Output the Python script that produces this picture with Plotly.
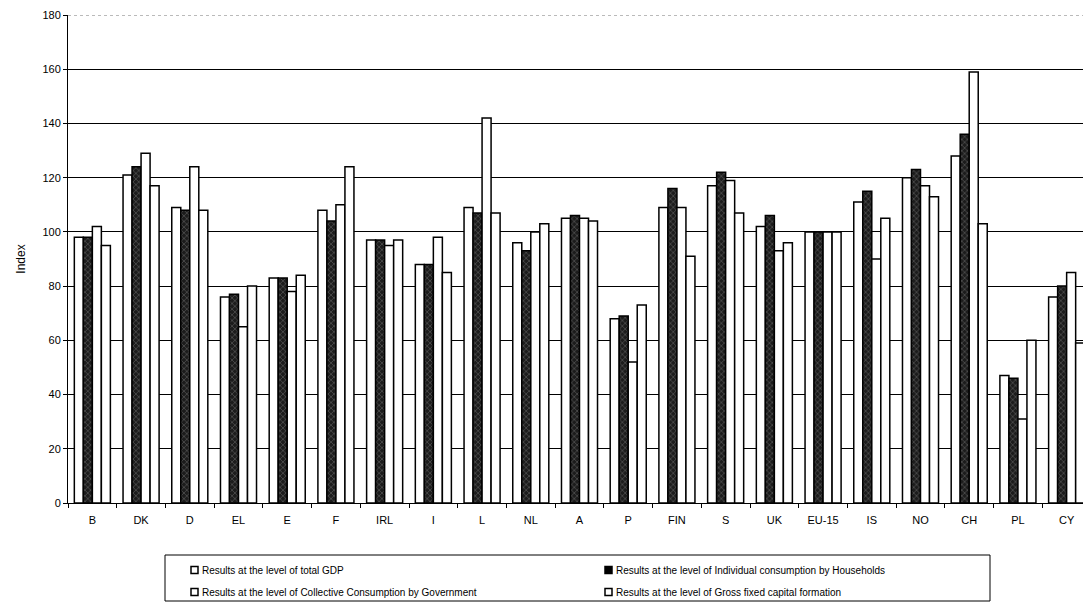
import plotly.graph_objects as go

categories = ["B", "DK", "D", "EL", "E", "F", "IRL", "I", "L", "NL", "A", "P",
              "FIN", "S", "UK", "EU-15", "IS", "NO", "CH", "PL", "CY"]
gdp = [98, 121, 109, 76, 83, 108, 97, 88, 109, 96, 105, 68, 109, 117, 102, 100, 111, 120, 128, 47, 76]
households = [98, 124, 108, 77, 83, 104, 97, 88, 107, 93, 106, 69, 116, 122, 106, 100, 115, 123, 136, 46, 80]
government = [102, 129, 124, 65, 78, 110, 95, 98, 142, 100, 105, 52, 109, 119, 93, 100, 90, 117, 159, 31, 85]
capital = [95, 117, 108, 80, 84, 124, 97, 85, 107, 103, 104, 73, 91, 107, 96, 100, 105, 113, 103, 60, 59]
series_names = ["Results at the level of total GDP",
                "Results at the level of Individual consumption by Households",
                "Results at the level of Collective Consumption by Government",
                "Results at the level of Gross fixed capital formation"]
y_ticks = [0, 20, 40, 60, 80, 100, 120, 140, 160, 180]

# page body has an 8px default margin; figure sized to fill the rest of the window
OFF = 8
W, H = 1091 - OFF, 610 - OFF
ML, MR, MT, MB = 68 - OFF, 0, 15 - OFF, 107
PW, PH = W - ML - MR, H - MT - MB

def px_x(p):
    return (p - OFF - ML) / PW

def px_y(p):
    return (H - MB - (p - OFF)) / PH

fig = go.Figure()
line = dict(color="black", width=1.5)
dark = dict(color="#1c1c1c", line=line,
            pattern=dict(shape="x", fgcolor="#9a9a9a", size=4, solidity=0.3))
fig.add_trace(go.Bar(x=categories, y=gdp, name=series_names[0],
                     marker=dict(color="white", line=line)))
fig.add_trace(go.Bar(x=categories, y=households, name=series_names[1], marker=dark))
fig.add_trace(go.Bar(x=categories, y=government, name=series_names[2],
                     marker=dict(color="white", line=line)))
fig.add_trace(go.Bar(x=categories, y=capital, name=series_names[3],
                     marker=dict(color="white", line=line)))

shapes = []
annotations = []
# top dotted gridline at 180
shapes.append(dict(type="line", xref="paper", yref="y", x0=0, x1=1, y0=180, y1=180,
                   line=dict(color="#777", width=1, dash="dot"), layer="below"))
# legend box
shapes.append(dict(type="rect", xref="paper", yref="paper",
                   x0=px_x(165), x1=px_x(990), y0=px_y(555), y1=px_y(601),
                   line=dict(color="black", width=1), fillcolor="white"))
leg_pos = [(191, 570), (605, 570), (191, 592), (605, 592)]
leg_fill = ["white", "black", "white", "white"]
for name, (lx, ly), fc in zip(series_names, leg_pos, leg_fill):
    shapes.append(dict(type="rect", xref="paper", yref="paper",
                       x0=px_x(lx), x1=px_x(lx + 7), y0=px_y(ly - 3.5), y1=px_y(ly + 3.5),
                       line=dict(color="black", width=1.5), fillcolor=fc))
    annotations.append(dict(xref="paper", yref="paper", x=px_x(lx + 9), y=px_y(ly),
                            xanchor="left", yanchor="middle", showarrow=False,
                            text=name, font=dict(size=10)))

fig.update_layout(
    width=W, height=H,
    margin=dict(l=ML, r=MR, t=MT, b=MB),
    paper_bgcolor="white", plot_bgcolor="white",
    font=dict(family="Liberation Sans, Arial, sans-serif", color="black", size=10),
    barmode="group", bargap=0.26, bargroupgap=0,
    showlegend=False,
    shapes=shapes, annotations=annotations,
)
fig.update_xaxes(showline=True, linecolor="black", linewidth=1, ticks="outside",
                 tickson="boundaries", ticklen=4, tickcolor="black",
                 tickfont=dict(size=11), showgrid=False, automargin=False,
                 ticklabelstandoff=7,
                 range=[-0.5, len(categories) - 0.5])
fig.update_yaxes(range=[0, 180], tickvals=y_ticks, showline=True, linecolor="black",
                 linewidth=1, ticks="outside", ticklen=4, tickcolor="black",
                 showgrid=True, gridcolor="black", gridwidth=1,
                 title=dict(text="Index", font=dict(size=12), standoff=14),
                 tickfont=dict(size=11), zeroline=False, automargin=False)

fig.write_html("out.html")
